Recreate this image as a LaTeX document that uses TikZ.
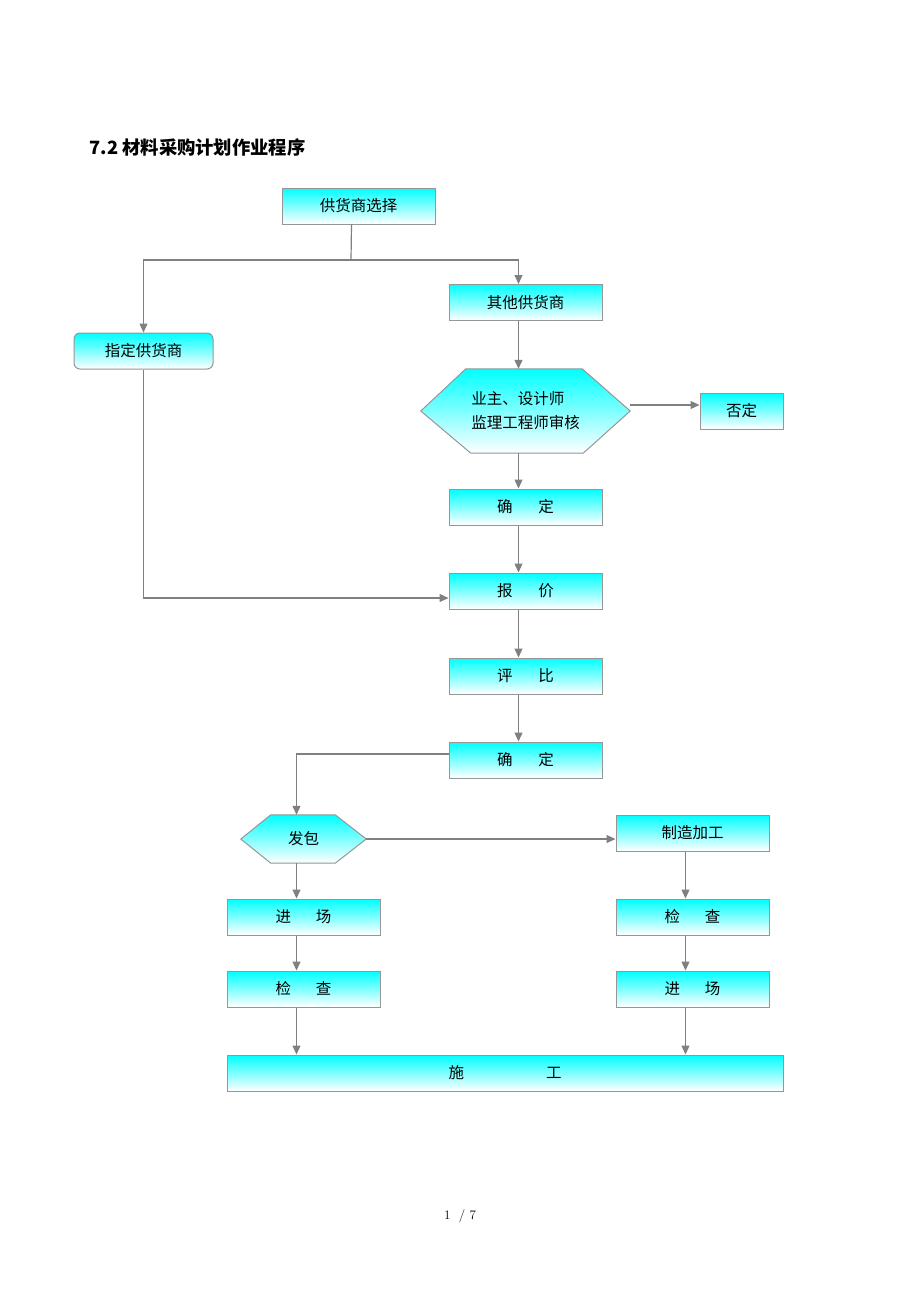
\documentclass[tikz,border=0pt]{standalone}
\usepackage{fontspec}
\newfontfamily\cjk{Noto Sans CJK SC}
\usetikzlibrary{arrows.meta,backgrounds}
\definecolor{boxgray}{RGB}{150,150,150}
\definecolor{linegray}{RGB}{128,128,128}

\begin{document}
\begin{tikzpicture}[x=1pt,y=-1pt,
      box/.style={draw=boxgray,line width=1pt,top color=cyan,bottom color=white,
        minimum width=153pt,minimum height=36pt,inner sep=0pt,
        font=\cjk\fontsize{15.5}{18}\selectfont},
      hexa/.style={inner sep=0pt,font=\cjk\fontsize{15.5}{24}\selectfont},
      hexfill/.style={draw=boxgray,line width=1pt,top color=cyan,bottom color=white},
      line/.style={draw=linegray,line width=1.2pt},
      arr/.style={line,-{Triangle[length=9pt,width=8pt]}}]
  \useasboundingbox (0,0) rectangle (920,1302);
  % title
  \node[anchor=west,font=\cjk\bfseries\fontsize{18.3}{20}\selectfont] (title) at (86,147) {7.2 材料采购计划作业程序};
  % supplier choice
  \node[box] (sel) at (358.5,206) {供货商选择};
  \node[box] (other) at (525.5,302.5) {其他供货商};
  \node[box,minimum width=139pt,rounded corners=6pt] (appoint) at (143.5,351) {指定供货商};
  \node[hexa,minimum width=209pt,minimum height=84pt,align=left] (rev) at (525.5,411) {业主、设计师\\监理工程师审核};
  \node[box,minimum width=83pt] (deny) at (741.5,411) {否定};
  \node[box] (ok1) at (525.5,507) {确\hspace{26pt}定};
  \node[box] (quote) at (525.5,591) {报\hspace{26pt}价};
  \node[box] (cmp) at (525.5,676) {评\hspace{26pt}比};
  \node[box] (ok2) at (525.5,760) {确\hspace{26pt}定};
  % contract
  \node[hexa,minimum width=125pt,minimum height=48pt] (pkg) at (303.5,839) {发包};
  \node[box] (make) at (692.5,833) {制造加工};
  \node[box] (inL) at (303.5,917) {进\hspace{25pt}场};
  \node[box] (chkL) at (303.5,989) {检\hspace{25pt}查};
  \node[box] (chkR) at (692.5,917) {检\hspace{25pt}查};
  \node[box] (inR) at (692.5,989) {进\hspace{25pt}场};
  \node[box,minimum width=556pt] (build) at (505,1073) {施\hspace{82pt}工};
  \node[font=\fontsize{13}{15}\selectfont] (pg) at (460,1216) {1\ \ / 7};
  \begin{scope}[on background layer]
    \shade[hexfill] (rev.west) -- ([xshift=45]rev.north west) -- ([xshift=-48]rev.north east)
      -- (rev.east) -- ([xshift=-47]rev.south east) -- ([xshift=50]rev.south west) -- cycle;
    \shade[hexfill] (pkg.west) -- ([xshift=30]pkg.north west) -- ([xshift=-31]pkg.north east)
      -- (pkg.east) -- ([xshift=-31]pkg.south east) -- ([xshift=30]pkg.south west) -- cycle;
  \end{scope}
  % connectors
  \coordinate (split) at (351,260);
  \draw[line] ([xshift=-7]sel.south) -- (split);
  \draw[arr] (split) -| (appoint.north);
  \draw[arr] (split) -| ([xshift=-7]other.north);
  \draw[arr] ([xshift=-7]other.south) -- ([xshift=-7]rev.north);
  \draw[arr] ([yshift=6]rev.east) -- ([yshift=6]deny.west);
  \draw[arr] ([xshift=-7]rev.south) -- ([xshift=-7]ok1.north);
  \draw[arr] ([xshift=-7]ok1.south) -- ([xshift=-7]quote.north);
  \draw[arr] (appoint.south) |- ([yshift=-7]quote.west);
  \draw[arr] ([xshift=-7]quote.south) -- ([xshift=-7]cmp.north);
  \draw[arr] ([xshift=-7]cmp.south) -- ([xshift=-7]ok2.north);
  \draw[arr] ([yshift=6]ok2.west) -| ([xshift=-7]pkg.north);
  \draw[arr] (pkg.east) -- (pkg.east -| make.west);
  \draw[arr] ([xshift=-7]pkg.south) -- ([xshift=-7]inL.north);
  \draw[arr] ([xshift=-7]inL.south) -- ([xshift=-7]chkL.north);
  \draw[arr] ([xshift=-7]chkL.south) -- ([xshift=-7]chkL.south |- build.north);
  \draw[arr] ([xshift=-7]make.south) -- ([xshift=-7]chkR.north);
  \draw[arr] ([xshift=-7]chkR.south) -- ([xshift=-7]inR.north);
  \draw[arr] ([xshift=-7]inR.south) -- ([xshift=-7]inR.south |- build.north);
\end{tikzpicture}
\end{document}
